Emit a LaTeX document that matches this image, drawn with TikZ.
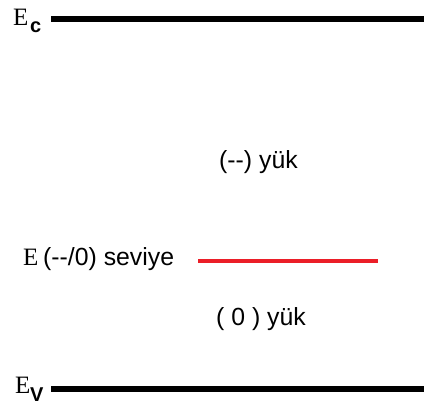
\documentclass[tikz,border=0pt]{standalone}
\usepackage{fontspec}
\setmainfont{Liberation Serif}
\setsansfont{Liberation Sans}
\definecolor{levelred}{RGB}{235,30,40}
\tikzset{
  band/.style={line width=5.5pt, black},
  level/.style={line width=3.5pt, levelred},
  bigE/.style={inner sep=0pt, anchor=base west, font=\rmfamily\fontsize{25}{28}\selectfont},
  subs/.style={inner sep=0pt, anchor=base west, font=\sffamily\bfseries\fontsize{20}{22}\selectfont},
  lbl/.style={inner sep=0pt, anchor=base west, font=\sffamily\fontsize{24.8}{28}\selectfont},
}
\begin{document}
\begin{tikzpicture}[x=1pt,y=-1pt]
\useasboundingbox (0,0) rectangle (424,405);
\coordinate (c1) at (51,19);
\coordinate (c2) at (424,19);
\coordinate (v1) at (51,389);
\coordinate (v2) at (424,389);
\coordinate (r1) at (198,261);
\coordinate (r2) at (378,261);
\draw[band] (c1) -- (c2);
\draw[band] (v1) -- (v2);
\draw[level] (r1) -- (r2);
\node[bigE] (ec) at (13,25) {E};
\node[subs] (ecs) at (30,32) {c};
\node[bigE] (ev) at (15,393) {E};
\node[subs] (evs) at (30,401) {V};
\node[bigE] (el) at (23,265) {E};
\node[lbl] (elt) at (43,265) {(-{}-/0) seviye};
\node[lbl] (neg) at (219,168) {(-{}-) yük};
\node[lbl] (zero) at (216,325) {( 0 ) yük};
\end{tikzpicture}
\end{document}
